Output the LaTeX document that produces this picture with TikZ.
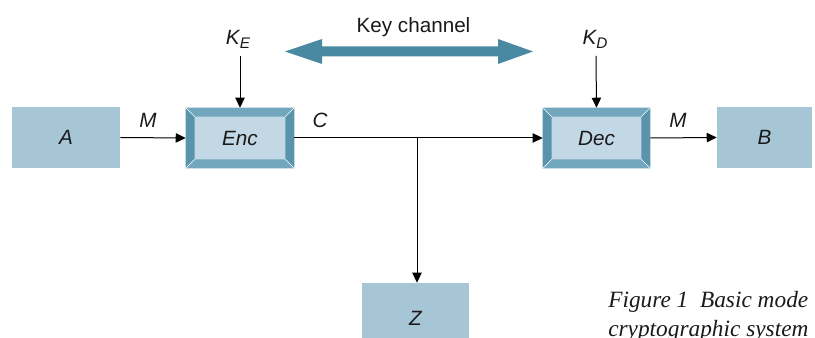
\documentclass[tikz,border=0pt]{standalone}
\usepackage{fontspec}
\setmainfont{Liberation Sans}
\newfontfamily\capfont{Liberation Serif}
\usetikzlibrary{arrows.meta,calc}

\definecolor{boxfill}{HTML}{A6C6D6}
\definecolor{innerfill}{HTML}{C2D8E4}
\definecolor{framedark}{HTML}{5A94AC}
\definecolor{framelight}{HTML}{72A7BD}
\definecolor{keyblue}{HTML}{4A89A2}
\definecolor{inkgray}{HTML}{1A1A1A}

% bevelled frame drawn over a node
\newcommand\bevelframe[1]{%
  \fill[framelight] (#1.north west) -- (#1.north east)
    -- ($(#1.north east)+(-6.75pt,-6.75pt)$) -- ($(#1.north west)+(6.75pt,-6.75pt)$) -- cycle;
  \fill[framedark] (#1.north west) -- ($(#1.north west)+(6.75pt,-6.75pt)$)
    -- ($(#1.south west)+(6.75pt,6.75pt)$) -- (#1.south west) -- cycle;
  \fill[framedark] (#1.north east) -- ($(#1.north east)+(-6.75pt,-6.75pt)$)
    -- ($(#1.south east)+(-6.75pt,6.75pt)$) -- (#1.south east) -- cycle;
  \fill[framelight] (#1.south west) -- (#1.south east)
    -- ($(#1.south east)+(-6.75pt,6.75pt)$) -- ($(#1.south west)+(6.75pt,6.75pt)$) -- cycle;
  \draw[white, line width=0.4pt] (#1.north west) -- ($(#1.north west)+(6.75pt,-6.75pt)$)
    (#1.north east) -- ($(#1.north east)+(-6.75pt,-6.75pt)$)
    (#1.south west) -- ($(#1.south west)+(6.75pt,6.75pt)$)
    (#1.south east) -- ($(#1.south east)+(-6.75pt,6.75pt)$);
}

\begin{document}
\begin{tikzpicture}[x=0.75pt,y=-0.75pt,
  font=\fontsize{15.5}{18}\selectfont,
  plainbox/.style={fill=boxfill, inner sep=0pt, text=inkgray,
    minimum width=81pt, minimum height=45.75pt, font=\fontsize{15.5}{18}\selectfont\itshape},
  bevelbox/.style={fill=innerfill, inner sep=0pt, text=inkgray,
    minimum width=81pt, minimum height=45pt, font=\fontsize{15.5}{18}\selectfont\itshape},
  lbl/.style={anchor=base, inner sep=0pt, text=inkgray, font=\fontsize{15.5}{18}\selectfont\itshape},
  conn/.style={line width=0.75pt, -{Triangle[length=7.5pt,width=7pt]}},
  wire/.style={line width=0.75pt}
]
\useasboundingbox (0,0) rectangle (815,338);

% blocks
\node[plainbox] (A) at (66,137.5) {A};
\node[bevelbox] (Enc) at (240,138) {};
\node[bevelbox, minimum width=80.25pt] (Dec) at (596.5,138) {};
\node[plainbox, minimum width=71.25pt] (B) at (764.5,137.5) {B};
\node[plainbox, minimum width=80.25pt, minimum height=42pt] (Z) at (415.5,311) {};
\node[lbl, anchor=center] (Zt) at (415.5,318) {Z};

\bevelframe{Enc}
\bevelframe{Dec}
\node[lbl, anchor=center] (Enct) at (Enc.center) {Enc};
\node[lbl, anchor=center] (Dect) at (Dec.center) {Dec};

% key inputs
\node[lbl] (KE) at (238,45) {$\mathit{K}$\raisebox{-0.35ex}{\fontsize{11.5}{13}\selectfont E}};
\node[lbl] (KD) at (595,45) {$\mathit{K}$\raisebox{-0.35ex}{\fontsize{11.5}{13}\selectfont D}};
\coordinate (KEs) at (240,56);
\coordinate (KDs) at (596,56);
\draw[conn] (KEs) -- (Enc.north);
\draw[conn] (KDs) -- (Dec.north);

% key channel
\node[anchor=base, inner sep=0pt, text=inkgray] (kc) at (413.5,33) {Key channel};
\fill[keyblue] (285,51.5) -- (322,39) -- (322,46.5) -- (498,46.5) -- (498,39)
  -- (533,51.5) -- (498,64) -- (498,56.5) -- (322,56.5) -- (322,64) -- cycle;

% message flow
\draw[conn] (A.east) -- (Enc.west);
\node[lbl] (M1) at (148,128) {M};
\coordinate (br) at (417,138);
\draw[wire] (Enc.east) -- (br);
\draw[conn] (br) -- (Dec.west);
\draw[conn] (br) -- (br |- Z.north);
\node[lbl] (C) at (320,128) {C};
\draw[conn] (Dec.east) -- (B.west);
\node[lbl] (M2) at (678,128) {M};

% caption
\node[anchor=base west, inner sep=0pt, text=inkgray,
  font=\capfont\itshape\fontsize{17.5}{20}\selectfont] (cap1) at (608,308) {Figure 1\ \ Basic mode};
\node[anchor=base west, inner sep=0pt, text=inkgray,
  font=\capfont\itshape\fontsize{17.5}{20}\selectfont] (cap2) at (608,337) {cryptographic system};
\end{tikzpicture}
\end{document}
